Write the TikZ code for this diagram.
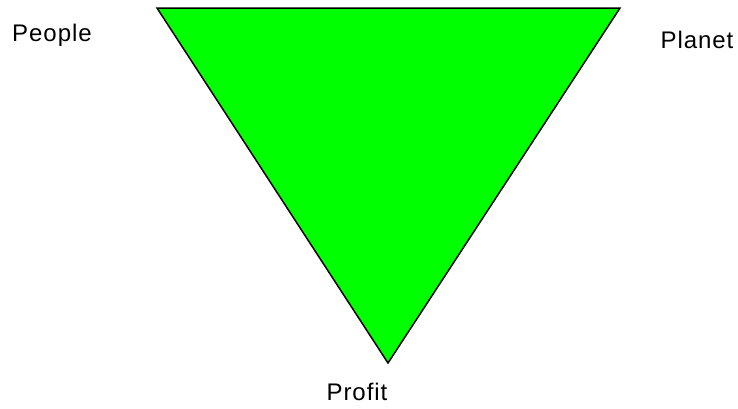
\documentclass[tikz,border=0pt]{standalone}
\usepackage{fontspec}
\setmainfont[LetterSpace=4]{Liberation Sans}
\usepackage{tikz}
\usetikzlibrary{positioning}
\definecolor{pgreen}{RGB}{0,255,0}

\begin{document}
\begin{tikzpicture}[x=1pt, y=-1pt,
    label/.style={inner sep=0pt, font=\fontsize{24}{28}\selectfont},
    tri/.style={draw=black, fill=pgreen, line width=1.5pt, line join=miter}
  ]
  \useasboundingbox (0,0) rectangle (738,408);

  \coordinate (tl) at (157,8);
  \coordinate (tr) at (620,8);
  \coordinate (bot) at (388,363);

  \draw[tri] (tl) -- (tr) -- (bot) -- cycle;

  \node[label] (people) at (52,35) {People};
  \node[label] (planet) at (697,40) {Planet};
  \node[label] (profit) at (357,392) {Profit};

\end{tikzpicture}
\end{document}
